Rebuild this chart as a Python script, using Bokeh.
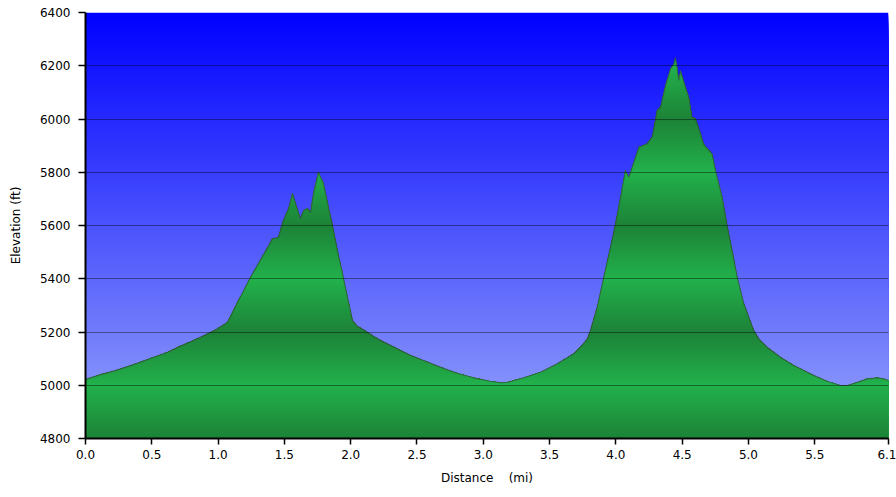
import numpy as np
from bokeh.plotting import figure
from bokeh.models import Range1d, FixedTicker, NumeralTickFormatter
from bokeh.embed import file_html
from bokeh.resources import INLINE

# ---- data ----
distance_mi = [0.000, 0.113, 0.211, 0.317, 0.415, 0.513, 0.618, 0.716, 0.814, 0.920,
               0.995, 1.071, 1.116, 1.154, 1.244, 1.373, 1.410, 1.455, 1.486, 1.531,
               1.561, 1.584, 1.621, 1.644, 1.674, 1.697, 1.719, 1.757, 1.795, 1.833,
               1.863, 1.900, 1.938, 1.976, 2.014, 2.051, 2.099, 2.174, 2.250, 2.351,
               2.451, 2.551, 2.677, 2.803, 2.928, 3.054, 3.130, 3.180, 3.305, 3.431,
               3.557, 3.682, 3.733, 3.784, 3.808, 3.859, 3.909, 3.959, 3.997, 4.035,
               4.072, 4.097, 4.123, 4.173, 4.236, 4.274, 4.311, 4.336, 4.374, 4.412,
               4.437, 4.449, 4.462, 4.474, 4.487, 4.525, 4.550, 4.575, 4.600, 4.638,
               4.663, 4.701, 4.726, 4.751, 4.802, 4.839, 4.877, 4.915, 4.965, 5.040,
               5.078, 5.141, 5.241, 5.342, 5.392, 5.492, 5.593, 5.694, 5.744, 5.820,
               5.895, 5.970, 6.020, 6.056]
elevation_ft = [5022, 5040, 5053, 5070, 5087, 5105, 5124, 5147, 5168, 5193,
                5212, 5237, 5281, 5318, 5405, 5517, 5551, 5555, 5611, 5664,
                5720, 5683, 5626, 5656, 5664, 5649, 5720, 5800, 5758, 5668,
                5600, 5506, 5420, 5330, 5243, 5221, 5208, 5183, 5162, 5137,
                5112, 5093, 5068, 5045, 5028, 5015, 5010, 5011, 5028, 5049,
                5081, 5118, 5143, 5174, 5206, 5293, 5406, 5518, 5606, 5706,
                5807, 5781, 5819, 5894, 5907, 5932, 6032, 6044, 6126, 6189,
                6207, 6232, 6195, 6145, 6182, 6119, 6082, 6007, 6001, 5945,
                5905, 5882, 5869, 5807, 5706, 5600, 5506, 5406, 5306, 5206,
                5174, 5143, 5105, 5074, 5062, 5037, 5015, 4999, 4999, 5011,
                5024, 5028, 5024, 5018]
x_ticks = [0.0, 0.5, 1.0, 1.5, 2.0, 2.5, 3.0, 3.5, 4.0, 4.5, 5.0, 5.5, 6.056]
y_ticks = [4800, 5000, 5200, 5400, 5600, 5800, 6000, 6200, 6400]

X_MIN, X_MAX = 0.0, 6.056
Y_MIN, Y_MAX = 4800, 6400
FONT = "DejaVu Sans"

p = figure(width=896, height=489, x_range=Range1d(X_MIN, X_MAX), y_range=Range1d(Y_MIN, Y_MAX),
           output_backend="svg", toolbar_location=None,
           min_border_left=85, min_border_right=8, min_border_top=12, min_border_bottom=51)
p.outline_line_color = None
p.background_fill_color = "white"

# ---- blue gradient background (bands) ----
STEP = 10
top_c = np.array([0, 0, 255])
bot_c = np.array([150, 165, 250])
levels = np.arange(Y_MAX, Y_MIN, -STEP)
bg_colors = []
for L in levels:
    f = (Y_MAX - (L - STEP / 2)) / (Y_MAX - Y_MIN)
    c = top_c + (bot_c - top_c) * f
    bg_colors.append("#%02x%02x%02x" % tuple(int(round(v)) for v in c))
p.quad(left=X_MIN, right=X_MAX, bottom=Y_MIN, top=levels, fill_color=bg_colors, line_color=None)

# ---- green area with repeating gradient ----
light = np.array([34, 177, 76])
dark = np.array([29, 130, 55])


def clip_top(xs, ys, level):
    ox, oy = [xs[0]], [min(ys[0], level)]
    for i in range(1, len(xs)):
        y0, y1 = ys[i - 1], ys[i]
        if (y0 - level) * (y1 - level) < 0:
            t = (level - y0) / (y1 - y0)
            ox.append(xs[i - 1] + t * (xs[i] - xs[i - 1]))
            oy.append(level)
        ox.append(xs[i])
        oy.append(min(y1, level))
    return ox, oy


emax = max(elevation_ft)
pxs, pys, pcols = [], [], []
for L in levels:
    if L - STEP > emax:
        continue
    ox, oy = clip_top(distance_mi, elevation_ft, L)
    pxs.append(ox + [ox[-1], ox[0]])
    pys.append(oy + [Y_MIN, Y_MIN])
    m = (L - STEP / 2 - Y_MIN) % 400
    t = abs(m - 200) / 200.0
    c = light + (dark - light) * t
    pcols.append("#%02x%02x%02x" % tuple(int(round(v)) for v in c))
p.patches(xs=pxs, ys=pys, fill_color=pcols, line_color=None)

# outline
p.line(distance_mi, elevation_ft, line_color="#3a3a3a", line_alpha=0.55, line_width=1.2)

# ---- grid ----
p.xgrid.grid_line_color = None
p.ygrid.ticker = FixedTicker(ticks=y_ticks)
p.ygrid.grid_line_color = "black"
p.ygrid.grid_line_alpha = 0.4
p.ygrid.grid_line_width = 1
p.ygrid.level = "overlay"

# ---- axes ----
p.xaxis.ticker = FixedTicker(ticks=x_ticks)
p.yaxis.ticker = FixedTicker(ticks=y_ticks)
p.xaxis.formatter = NumeralTickFormatter(format="0.0")
p.yaxis.formatter = NumeralTickFormatter(format="0")
for ax in (p.xaxis[0], p.yaxis[0]):
    ax.axis_line_color = "black"
    ax.axis_line_width = 2
    ax.major_tick_line_color = "black"
    ax.major_tick_line_width = 1.5
    ax.major_tick_in = 0
    ax.minor_tick_line_color = None
    ax.major_label_text_font = FONT
    ax.major_label_text_font_size = "12px"
    ax.major_label_text_color = "black"
    ax.axis_label_text_font = FONT
    ax.axis_label_text_font_size = "12px"
    ax.axis_label_text_font_style = "normal"
    ax.axis_label_text_color = "black"
p.xaxis.major_tick_out = 6
p.xaxis.major_label_standoff = 5
p.xaxis.axis_label = "Distance\u00a0\u00a0\u00a0\u00a0(mi)"
p.xaxis.axis_label_standoff = 9
p.yaxis.major_tick_out = 7
p.yaxis.major_label_standoff = 8
p.yaxis.axis_label = "Elevation (ft)"
p.yaxis.axis_label_standoff = 14

open("out.html", "w").write(file_html(p, INLINE))
